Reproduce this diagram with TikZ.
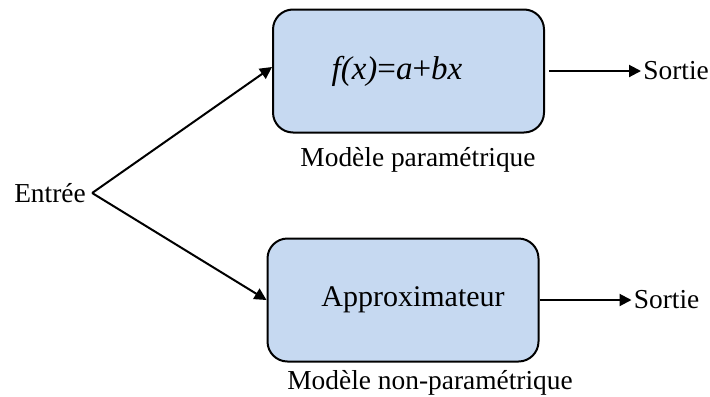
\documentclass[tikz,border=0pt]{standalone}
\usepackage{fontspec}
\setmainfont{Liberation Serif}
\usetikzlibrary{shapes,arrows.meta,positioning}

\definecolor{boxblue}{HTML}{C6D9F1}

\begin{document}
\begin{tikzpicture}[x=0.5pt, y=-0.5pt, node distance=10pt, >={Triangle[length=6pt,width=6pt]}]
    \tikzstyle{model} = [draw, rectangle, rounded corners=10pt, fill=boxblue, line width=1pt, minimum width=135.5pt, minimum height=61.5pt, font=\fontsize{15}{18}\selectfont]
    \tikzstyle{label} = [font=\fontsize{13.7}{16}\selectfont, inner sep=1pt]
    \tikzstyle{arrow} = [line width=1pt, ->]

    \useasboundingbox (0,0) rectangle (710,396);

    \node [label, inner sep=3pt] (entree) at (50,193) {Entrée};
    \node [model, font=\fontsize{16.5}{19}\selectfont] (param) at (408.5,71) {\hspace*{-11.5pt}\textit{f(x)}=\textit{a}+\textit{bx}};
    \node [model] (nonparam) at (403,300) {\hspace*{10pt}Approximateur};

    \node [label] (lparam) at (418,160) {Modèle paramétrique};
    \node [label] (lnonparam) at (430,383) {Modèle non-paramétrique};

    \node [label, right=48pt of param] (sortie1) {Sortie};
    \node [label, right=46pt of nonparam] (sortie2) {Sortie};

    \draw [arrow] (entree.east) -- ([yshift=2pt]param.west);
    \draw [arrow] (entree.east) -- (nonparam.west);
    \draw [arrow] ([xshift=2pt]param.east) -- (sortie1.west);
    \draw [arrow] (nonparam.east) -- (sortie2.west);
\end{tikzpicture}
\end{document}
